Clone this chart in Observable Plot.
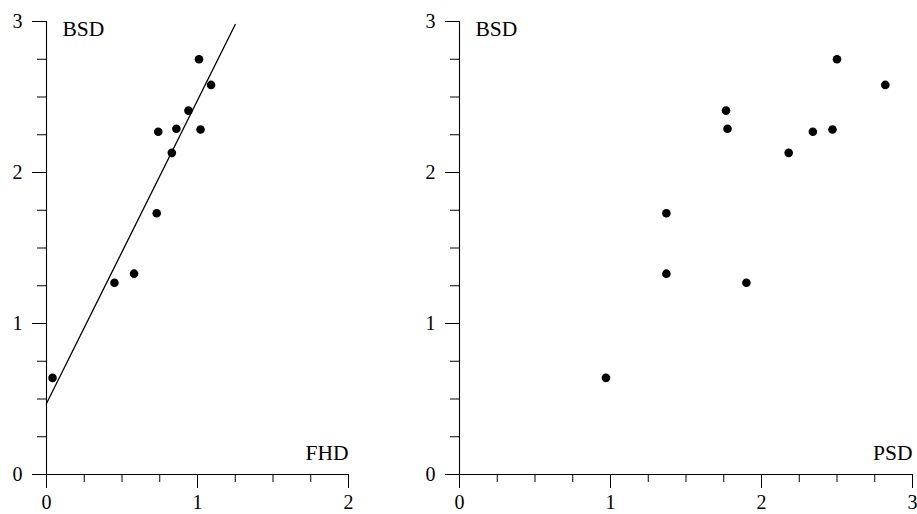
<!DOCTYPE html>
<html>
<head>
<meta charset="utf-8">
<script src="https://cdn.jsdelivr.net/npm/d3@7"></script>
<script src="https://cdn.jsdelivr.net/npm/@observablehq/plot@0.6"></script>
<style>
  html, body { margin: 0; padding: 0; background: white; }
  #wrap { display: flex; width: 917px; height: 514px; overflow: hidden; font-family: 'Liberation Serif', 'Times New Roman', 'DejaVu Serif', serif; }
  #wrap svg { display: block; }
</style>
</head>
<body>
<div id="wrap"></div>
<script>
// BSD values (shared y), with FHD (left x) and PSD (right x)
const bsd = [0.64, 1.27, 1.33, 1.73, 2.13, 2.27, 2.29, 2.285, 2.41, 2.58, 2.75];
const fhd = [0.04, 0.45, 0.58, 0.73, 0.83, 0.74, 0.86, 1.02, 0.94, 1.09, 1.01];
const psd = [0.97, 1.90, 1.37, 1.37, 2.18, 2.34, 1.775, 2.47, 1.765, 2.82, 2.50];

// fitted line endpoints (left panel)
const fitX = [0, 1.25];
const fitY = [0.47, 2.98];

// tick values
const yMajor = [0, 1, 2, 3];
const yMinor = [0.25, 0.5, 0.75, 1.25, 1.5, 1.75, 2.25, 2.5, 2.75];
const xMajorL = [0, 1, 2];
const xMinorL = [0.25, 0.5, 0.75, 1.25, 1.5, 1.75];
const xMajorR = [0, 1, 2, 3];
const xMinorR = [0.25, 0.5, 0.75, 1.25, 1.5, 1.75, 2.25, 2.5, 2.75];

const points = bsd.map((b, i) => ({bsd: b, fhd: fhd[i], psd: psd[i]}));
const fit = fitX.map((x, i) => ({x, y: fitY[i]}));

const FONT = "'Liberation Serif', 'Times New Roman', 'DejaVu Serif', serif";
const fmt = d => String(d);

function panel({width, marginLeft, marginRight, xDomain, xMajor, xMinor, xField, xLabel, extra}) {
  return Plot.plot({
    width,
    height: 514,
    marginLeft,
    marginRight,
    marginTop: 21,
    marginBottom: 40,
    style: "font-size: 20px; color: black; background: white; overflow: visible;",
    x: {domain: xDomain, label: null},
    y: {domain: [0, 3], label: null},
    marks: [
      Plot.axisY(yMinor, {tickSize: 9, tickFormat: () => "", strokeWidth: 1}),
      Plot.axisY(yMajor, {tickSize: 14, tickPadding: 10, tickFormat: fmt, strokeWidth: 1, fontSize: 20}),
      Plot.axisX(xMinor, {tickSize: 8, tickFormat: () => "", strokeWidth: 1}),
      Plot.axisX(xMajor, {tickSize: 14, tickPadding: 6, tickFormat: fmt, strokeWidth: 1, fontSize: 20}),
      Plot.ruleX([0], {stroke: "black", strokeWidth: 1.1}),
      Plot.ruleY([0], {stroke: "black", strokeWidth: 1.1}),
      ...(extra || []),
      Plot.dot(points, {x: xField, y: "bsd", r: 4.3, fill: "black", stroke: "none"}),
      Plot.text(["BSD"], {x: 0, y: 3, text: d => d, textAnchor: "start", lineAnchor: "bottom", dx: 16, dy: 14, fontSize: 21.5}),
      Plot.text([xLabel], {x: xDomain[1], y: 0, text: d => d, textAnchor: "end", lineAnchor: "bottom", dx: 0, dy: -15, fontSize: 21.5})
    ]
  });
}

const left = panel({
  width: 400, marginLeft: 46, marginRight: 52,
  xDomain: [0, 2], xMajor: xMajorL, xMinor: xMinorL, xField: "fhd", xLabel: "FHD",
  extra: [Plot.line(fit, {x: "x", y: "y", stroke: "black", strokeWidth: 1.3})]
});
const right = panel({
  width: 517, marginLeft: 59, marginRight: 5,
  xDomain: [0, 3], xMajor: xMajorR, xMinor: xMinorR, xField: "psd", xLabel: "PSD"
});

const wrap = document.getElementById("wrap");
wrap.appendChild(left);
wrap.appendChild(right);
d3.select(wrap).selectAll("svg").style("font-family", FONT);
d3.select(wrap).selectAll("svg text, svg g").attr("font-family", FONT).style("font-family", FONT);
</script>
</body>
</html>
